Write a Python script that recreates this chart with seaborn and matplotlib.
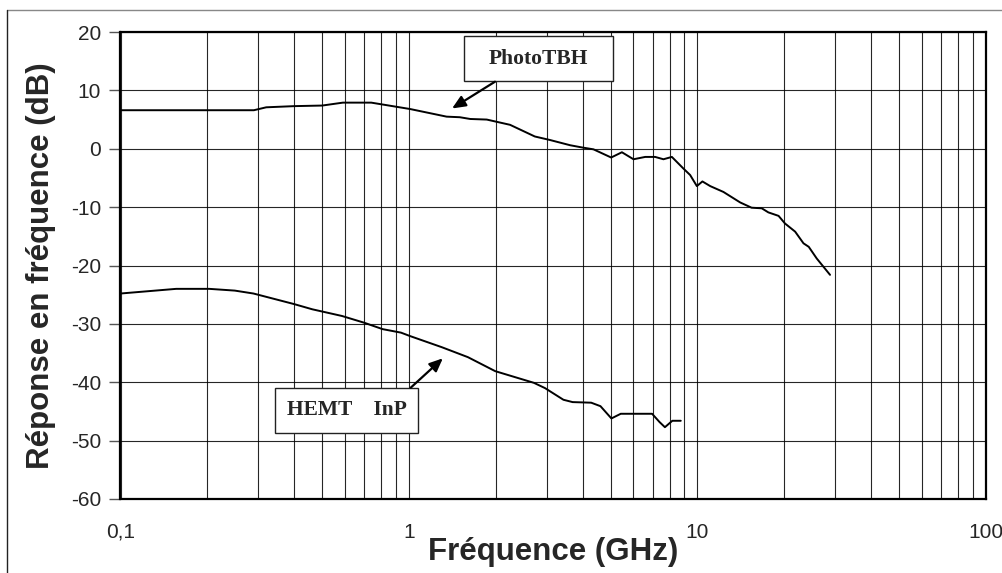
import numpy as np
import pandas as pd
import matplotlib
matplotlib.use("Agg")
import matplotlib.pyplot as plt
from matplotlib.lines import Line2D
from matplotlib.patches import Rectangle
import seaborn as sns

# values
photo_f = [0.1, 0.29, 0.32, 0.40, 0.50, 0.59, 0.74, 1.01, 1.35, 1.50, 1.63, 1.86,
           2.24, 2.73, 3.08, 3.62, 4.0, 4.36, 5.02, 5.47, 6.0, 6.59, 7.13, 7.62,
           8.15, 8.94, 9.43, 9.95, 10.4, 11.07, 12.3, 14.06, 15.4, 16.7, 17.6,
           19.1, 20.1, 21.8, 23.3, 24.3, 25.9, 28.8]
photo_db = [6.6, 6.6, 7.1, 7.3, 7.4, 7.9, 7.9, 6.8, 5.5, 5.4, 5.1, 5.0,
            4.1, 2.1, 1.5, 0.6, 0.2, -0.1, -1.5, -0.6, -1.8, -1.4, -1.4, -1.8,
            -1.4, -3.4, -4.5, -6.4, -5.6, -6.4, -7.4, -9.2, -10.1, -10.2, -10.9,
            -11.5, -12.8, -14.2, -16.2, -16.8, -18.8, -21.6]

hemt_f = [0.1, 0.156, 0.203, 0.249, 0.289, 0.399, 0.462, 0.586, 0.699, 0.810,
          0.938, 1.01, 1.30, 1.60, 1.99, 2.71, 2.96, 3.43, 3.69, 4.28, 4.61,
          5.03, 5.42, 6.96, 7.38, 7.71, 8.18, 8.75]
hemt_db = [-24.8, -24.0, -24.0, -24.3, -24.8, -26.6, -27.5, -28.65, -29.8, -30.9,
           -31.5, -32.1, -34.0, -35.7, -38.1, -40.1, -41.0, -43.0, -43.4, -43.5, -44.1,
           -46.2, -45.4, -45.4, -46.8, -47.7, -46.6, -46.6]

y_ticks = [20, 10, 0, -10, -20, -30, -40, -50, -60]
x_ticks = [0.1, 1, 10, 100]
x_tick_labels = ["0,1", "1", "10", "100"]

df = pd.concat([
    pd.DataFrame({"f": photo_f, "db": photo_db, "curve": "PhotoTBH"}),
    pd.DataFrame({"f": hemt_f, "db": hemt_db, "curve": "HEMT InP"}),
])

sns.set_style("white")
plt.rcParams['font.family'] = ['Liberation Sans', 'DejaVu Sans']

fig = plt.figure(figsize=(10.03, 5.73), dpi=100)
ax = fig.add_axes([120.5 / 1003, 1 - 499 / 573, 865.5 / 1003, 467 / 573])

sns.lineplot(data=df, x="f", y="db", hue="curve", units="curve", estimator=None,
             sort=False, palette={"PhotoTBH": "black", "HEMT InP": "black"},
             linewidth=1.4, legend=False, ax=ax)

ax.set_xscale("log")
ax.set_xlim(0.1, 100)
ax.set_ylim(-60, 20)
ax.set_yticks(y_ticks)
ax.set_yticklabels([str(v) for v in y_ticks], fontsize=15)
ax.set_xticks(x_ticks)
ax.set_xticklabels(x_tick_labels, fontsize=15)
ax.xaxis.set_minor_formatter(matplotlib.ticker.NullFormatter())
ax.tick_params(axis="x", which="both", length=0, pad=17)
ax.tick_params(axis="y", which="major", length=8, width=1, direction="out",
               color="#555555", pad=6, left=True)
ax.grid(True, which="both", axis="x", color="black", linewidth=0.8, alpha=0.85)
ax.grid(True, which="major", axis="y", color="black", linewidth=0.8, alpha=0.85)
for s in ax.spines.values():
    s.set_color("black")
    s.set_linewidth(1.6)

ax.set_xlabel("Fréquence (GHz)", fontsize=22.5, fontweight="bold", labelpad=-3)
ax.set_ylabel("Réponse en fréquence (dB)", fontsize=22.5, fontweight="bold", labelpad=11)

# annotation boxes
serif = ['Liberation Serif', 'DejaVu Serif']
def label_box(x0, y0, x1, y1, text):
    ax.add_patch(Rectangle((x0, y0), x1 - x0, y1 - y0, transform=ax.transAxes,
                           facecolor="white", edgecolor="#222222", linewidth=1.0,
                           zorder=5, clip_on=False))
    ax.text((x0 + x1) / 2, (y0 + y1) / 2, text, transform=ax.transAxes,
            ha="center", va="center", fontsize=15.5, fontweight="bold",
            family=serif, zorder=6)

label_box(0.3972, 0.8951, 0.5690, 0.9914, "PhotoTBH")
label_box(0.1785, 0.1420, 0.3437, 0.2383, "HEMT    InP")

arrow = dict(arrowstyle="-|>,head_length=0.8,head_width=0.35", color="black",
             linewidth=1.6, shrinkA=0, shrinkB=0)
ax.annotate("", xy=(1.41, 6.9), xycoords="data", xytext=(0.4327, 0.8936),
            textcoords="axes fraction", arrowprops=arrow, zorder=6)
ax.annotate("", xy=(1.31, -35.9), xycoords="data", xytext=(0.3353, 0.2383),
            textcoords="axes fraction", arrowprops=arrow, zorder=6)

# thin frame around the picture
fig.add_artist(Line2D([7 / 1003, 1], [1 - 10 / 573, 1 - 10 / 573], color="#888888", lw=1))
fig.add_artist(Line2D([7 / 1003, 7 / 1003], [0, 1 - 10 / 573], color="#222222", lw=1))

fig.savefig("out.png", dpi=100)
